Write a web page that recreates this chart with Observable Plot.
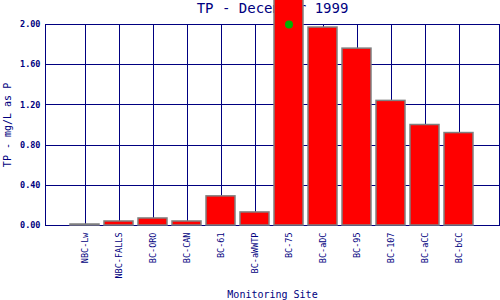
<!DOCTYPE html>
<html>
<head>
<meta charset="utf-8">
<script src="https://cdn.jsdelivr.net/npm/d3@7"></script>
<script src="https://cdn.jsdelivr.net/npm/@observablehq/plot@0.6"></script>
<style>
  html, body { margin: 0; padding: 0; background: #fff; }
  svg { overflow: hidden; }
</style>
</head>
<body>
<div id="chart"></div>
<script>
const sites = ["NBC-Lw", "NBC-FALLS", "BC-ORO", "BC-CAN", "BC-61", "BC-aWWTP", "BC-75", "BC-aDC", "BC-95", "BC-107", "BC-aCC", "BC-bCC"];
const tpValues = [0.01, 0.04, 0.07, 0.04, 0.29, 0.13, 2.3, 1.97, 1.76, 1.24, 1.00, 0.92];
const markerSites = ["BC-75"];
const markerValues = [2.00];
const yTicks = [0, 0.4, 0.8, 1.2, 1.6, 2.0];
const titleText = "TP - December 1999";
const xLabel = "Monitoring Site";
const yLabel = "TP - mg/L as P";

const data = sites.map((s, i) => ({site: s, value: tpValues[i]}));
const markers = markerSites.map((s, i) => ({site: s, value: markerValues[i]}));
const navy = "#000080";
const font = "DejaVu Sans Mono, monospace";

const chart = Plot.plot({
  width: 500,
  height: 300,
  marginLeft: 45,
  marginRight: 1,
  marginTop: 24,
  marginBottom: 75,
  style: {fontFamily: font, background: "#fff", overflow: "hidden"},
  x: {domain: sites, paddingInner: 0.143, paddingOuter: 0.5715},
  y: {domain: [0, 2], clamp: false},
  marks: [
    Plot.ruleY(yTicks, {y: d => d, stroke: navy, strokeWidth: 1, shapeRendering: "crispEdges"}),
    Plot.ruleX(sites, {x: d => d, stroke: navy, strokeWidth: 1, shapeRendering: "crispEdges"}),
    Plot.frame({stroke: navy, strokeWidth: 1, shapeRendering: "crispEdges"}),
    Plot.text([titleText], {frameAnchor: "top", dy: -16, text: d => d, fill: navy, fontSize: 14, lineAnchor: "middle"}),
    Plot.barY(data, {x: "site", y: "value", fill: "#ff0000", stroke: "#808080", strokeWidth: 1.5}),
    Plot.dot(markers, {x: "site", y: "value", r: 4, fill: "#00b000", stroke: "none"}),
    Plot.axisY({ticks: yTicks, tickFormat: d3.format(".2f"), tickSize: 0, tickPadding: 5, fill: navy, fontWeight: "bold", fontSize: 8.5, label: null}),
    Plot.text([yLabel], {frameAnchor: "left", dx: -38, rotate: -90, text: d => d, fill: navy, fontSize: 10, textAnchor: "middle", lineAnchor: "middle"}),
    Plot.axisX({tickRotate: -90, tickSize: 0, tickPadding: 7, fill: navy, fontSize: 8.5, label: null}),
    Plot.text([xLabel], {frameAnchor: "bottom", dy: 69, text: d => d, fill: navy, fontSize: 10, lineAnchor: "middle"})
  ]
});
document.getElementById("chart").appendChild(chart);
</script>
</body>
</html>
